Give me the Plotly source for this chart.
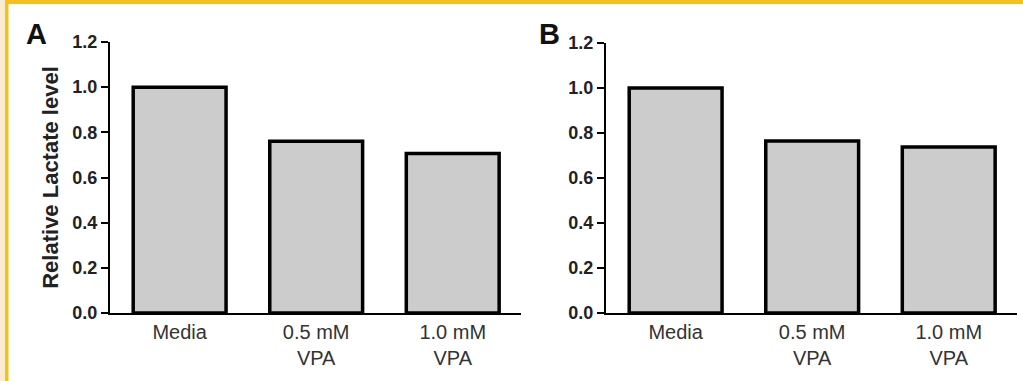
import plotly.graph_objects as go

categories = ["Media", "0.5 mM<br>VPA", "1.0 mM<br>VPA"]
values_a = [1.0, 0.76, 0.706]
values_b = [1.0, 0.765, 0.738]
y_ticks = [0.0, 0.2, 0.4, 0.6, 0.8, 1.0, 1.2]
y_title = "Relative Lactate level"
panel_labels = ["A", "B"]

W, H = 1023, 381
def px(x):
    return x / W
def py(y):
    return 1 - y / H

fig = go.Figure()
bar_style = dict(marker=dict(color="#cccccc", line=dict(color="black", width=3.5)), width=0.68, showlegend=False)
fig.add_trace(go.Bar(x=categories, y=values_a, xaxis="x", yaxis="y", **bar_style))
fig.add_trace(go.Bar(x=categories, y=values_b, xaxis="x2", yaxis="y2", **bar_style))

tickfont_y = dict(family="Liberation Sans, Arial", size=18, color="#222222")
tickfont_x = dict(family="Liberation Sans, Arial", size=20, color="#333333")

common_x = dict(type="category", range=[-0.51, 2.5], showline=True, linecolor="black", linewidth=2,
                ticks="", showgrid=False, zeroline=False, tickfont=tickfont_x, fixedrange=True,
                automargin=False)
common_y = dict(range=[0, 1.2], tickvals=y_ticks, ticktext=[f"<b>{v:.1f}</b>" for v in y_ticks],
                showline=True, linecolor="black", linewidth=2, ticks="outside", ticklen=7,
                tickwidth=2, tickcolor="black", showgrid=False, zeroline=False, tickfont=tickfont_y,
                automargin=False)

fig.update_layout(
    width=W, height=H, margin=dict(l=0, r=0, t=0, b=0),
    paper_bgcolor="white", plot_bgcolor="white",
    xaxis=dict(domain=[px(110), px(521)], anchor="y", **common_x),
    yaxis=dict(domain=[py(313), py(42)], anchor="x",
               title=dict(text=f"<b>{y_title}</b>", font=dict(family="Liberation Sans, Arial", size=22, color="#222222"), standoff=8),
               **common_y),
    xaxis2=dict(domain=[px(606), px(1017)], anchor="y2", **common_x),
    yaxis2=dict(domain=[py(313), py(43)], anchor="x2", **common_y),
    bargap=0.32,
)

# panel labels
for lab, xpos in zip(panel_labels, [24, 537]):
    fig.add_annotation(text=f"<b>{lab}</b>", x=px(xpos), y=py(16), xref="paper", yref="paper",
                       xanchor="left", yanchor="top", showarrow=False,
                       font=dict(family="Liberation Sans, Arial", size=29, color="#111111"))

# frame decoration
fig.add_shape(type="rect", xref="paper", yref="paper", x0=0, x1=px(5), y0=0, y1=1,
              fillcolor="#fbebd0", line=dict(width=0), layer="above")
fig.add_shape(type="rect", xref="paper", yref="paper", x0=px(5), x1=px(8.5), y0=0, y1=1,
              fillcolor="#f4c21f", line=dict(width=0), layer="above")
fig.add_shape(type="rect", xref="paper", yref="paper", x0=px(5), x1=1, y0=py(4), y1=1,
              fillcolor="#f4c21f", line=dict(width=0), layer="above")

fig.write_html("out.html", config={"displayModeBar": False},
               post_script="document.body.style.margin='0';document.body.style.overflow='hidden';")
